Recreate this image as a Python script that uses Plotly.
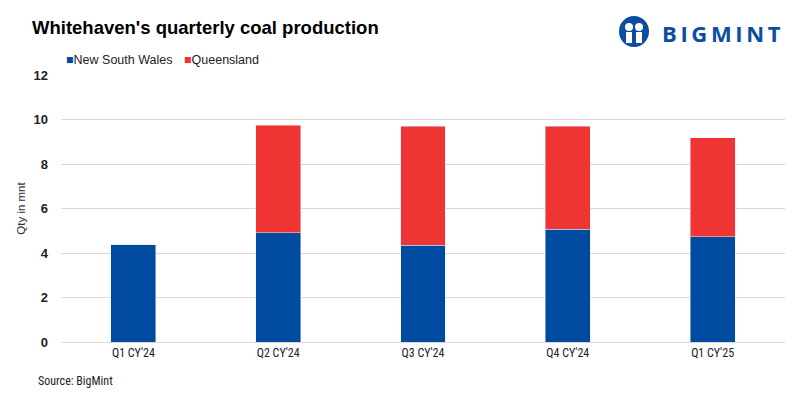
import plotly.graph_objects as go

quarters = ["Q1 CY'24", "Q2 CY'24", "Q3 CY'24", "Q4 CY'24", "Q1 CY'25"]
nsw = [4.36, 4.92, 4.34, 5.06, 4.72]
qld = [0, 4.83, 5.36, 4.63, 4.45]
y_ticks = [0, 2, 4, 6, 8, 10, 12]

BLUE = "#004A9F"
RED = "#EE3533"

OFF = 8  # page body margin
W, H = 800 - OFF, 400 - OFF
# plot area in screenshot pixels
PL, PR, PT, PB = 61, 785, 75, 342
L, R, T, B = PL - OFF, W - (PR - OFF), PT - OFF, H - (PB - OFF)
PW, PH = W - L - R, H - T - B


def px(xs):
    return (xs - OFF - L) / PW


def py(ys):
    return (H - B - (ys - OFF)) / PH


fig = go.Figure()
fig.add_trace(go.Bar(name="New South Wales", x=quarters, y=nsw, marker_color=BLUE))
fig.add_trace(go.Bar(name="Queensland", x=quarters, y=qld, marker_color=RED))

fig.update_layout(
    barmode="stack",
    bargap=0.69,
    width=W, height=H,
    margin=dict(l=L, r=R, t=T, b=B, autoexpand=False),
    plot_bgcolor="white", paper_bgcolor="white",
    font=dict(family="Liberation Sans, Arial", color="#000"),
    showlegend=False,
    xaxis=dict(showline=True, linecolor="#D9D9D9", linewidth=1,
               tickfont=dict(family="Liberation Sans Narrow, Roboto Condensed, Roboto", size=12, color="#222"),
               ticks="", ticklen=0),
    yaxis=dict(range=[0, 12], tickvals=y_ticks, showgrid=True, gridcolor="#D9D9D9",
               gridwidth=1.3, zeroline=False,
               tickfont=dict(size=13, color="#222", family="Liberation Sans, Arial", weight="bold"),
               ticklabelstandoff=12,
               title=dict(text="Qty in mnt", font=dict(size=11.5, color="#333"), standoff=5)),
)

# legend as annotations
fig.add_annotation(text=f"<span style='color:{BLUE}'>■</span>New South Wales", xref="paper", yref="paper",
                   x=px(64), y=py(60), xanchor="left", yanchor="middle", showarrow=False,
                   font=dict(size=12.5, color="#222"))
fig.add_annotation(text=f"<span style='color:{RED}'>■</span>Queensland", xref="paper", yref="paper",
                   x=px(182), y=py(60), xanchor="left", yanchor="middle", showarrow=False,
                   font=dict(size=12.5, color="#222"))

fig.add_annotation(text="<b>Whitehaven's quarterly coal production</b>", xref="paper", yref="paper",
                   x=px(30), y=py(27), xanchor="left", yanchor="middle", showarrow=False,
                   font=dict(size=18.5, color="#000", family="Liberation Sans, Arial"))
fig.add_annotation(text="Source: BigMint", xref="paper", yref="paper",
                   x=px(36), y=py(381), xanchor="left", yanchor="middle", showarrow=False,
                   font=dict(size=12, color="#222", family="Liberation Sans Narrow, Roboto Condensed, Roboto"))

# logo
fig.add_annotation(text="<b>B\u2009I\u2009G\u2009M\u2009I\u2009N\u2009T</b>", xref="paper", yref="paper",
                   x=px(783), y=py(33), xanchor="right", yanchor="middle", showarrow=False,
                   font=dict(size=22, color="#0B4DA2", family="Open Sans, Liberation Sans"))
shapes = [
    dict(type="circle", x0=px(619), x1=px(649), y0=py(47), y1=py(16), fillcolor="#0B4DA2"),
    dict(type="circle", x0=px(625), x1=px(633), y0=py(31), y1=py(23), fillcolor="white"),
    dict(type="circle", x0=px(635), x1=px(643), y0=py(31), y1=py(23), fillcolor="white"),
    dict(type="rect", x0=px(626), x1=px(632), y0=py(43), y1=py(32), fillcolor="white"),
    dict(type="rect", x0=px(636), x1=px(642), y0=py(43), y1=py(32), fillcolor="white"),
]
for s in shapes:
    fig.add_shape(xref="paper", yref="paper", line=dict(width=0), **s)

fig.write_html("out.html")
